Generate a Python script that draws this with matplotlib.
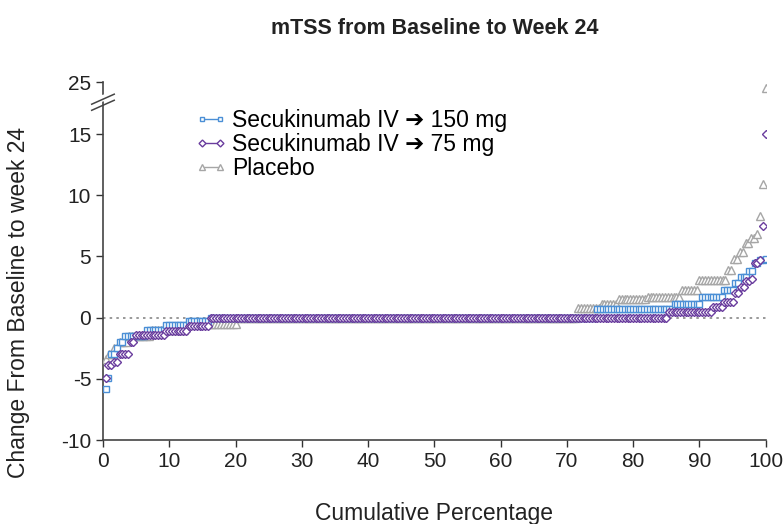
import numpy as np
import matplotlib
matplotlib.use("Agg")
from matplotlib import pyplot as plt
from matplotlib.lines import Line2D

plt.rcParams['font.family'] = ['Liberation Sans', 'DejaVu Sans']

# sorted change values (value, number of patients)
sec150_values = [-5.8, -4.9, -3.0, -2.5, -2.0, -1.5, -1.0, -0.6, -0.3, 0.0, 0.7,
                 1.1, 1.7, 2.3, 2.8, 3.3, 3.8, 4.5, 4.7, 4.8]
sec150_counts = [1, 1, 2, 1, 2, 8, 7, 8, 8, 140, 28, 10, 8, 4, 2, 3, 2, 2, 2, 1]

sec75_values = [-4.9, -3.9, -3.6, -3.0, -2.0, -1.4, -1.1, -0.7, 0.0, 0.5, 0.9,
                1.3, 2.0, 2.5, 3.0, 3.2, 4.5, 4.7, 7.5, 15.0]
sec75_counts = [1, 2, 2, 4, 2, 11, 8, 8, 166, 16, 4, 4, 2, 2, 2, 1, 2, 1, 1, 1]

placebo_values = [-3.4, -3.0, -2.5, -2.0, -1.5, -1.0, -0.5, 0.0, 0.8, 1.1, 1.5,
                  1.7, 2.3, 3.1, 3.9, 4.8, 5.4, 6.1, 6.5, 6.8, 8.3, 10.9, 23.8]
placebo_counts = [1, 2, 2, 3, 8, 12, 18, 118, 8, 6, 10, 12, 6, 10, 2, 2, 2, 2, 2,
                  1, 1, 1, 1]

labels = ["Secukinumab IV \u2794 150 mg", "Secukinumab IV \u2794 75 mg", "Placebo"]
colors = ["#4b8fd6", "#6a3d9e", "#a6a6a6"]
markers = ["s", "D", "^"]
sizes = [4.5, 4.5, 5.5]

yticks = [-10, -5, 0, 5, 10, 15, 25]
xticks = list(range(0, 101, 10))


def cumulative(values, counts):
    y = np.repeat(values, counts)
    x = np.arange(1, len(y) + 1) / len(y) * 100
    return x, y


# broken y axis: above 15 the scale is compressed
squeeze = 0.425


def fwd(y):
    y = np.asarray(y, dtype=float)
    return np.where(y <= 15, y, 15 + (y - 15) * squeeze)


def inv(y):
    y = np.asarray(y, dtype=float)
    return np.where(y <= 15, y, 15 + (y - 15) / squeeze)


fig = plt.figure(figsize=(7.83, 5.24), dpi=100)
ax = fig.add_axes([0.1315, 0.16, 0.8465, 0.6835])
ax.set_yscale('function', functions=(fwd, inv))

ax.axhline(0, color="#888888", lw=1.2, linestyle=(0, (1.5, 2.5)), zorder=1)

groups = [(placebo_values, placebo_counts, 2),
          (sec150_values, sec150_counts, 0),
          (sec75_values, sec75_counts, 1)]
for vals, cnts, k in groups:
    x, y = cumulative(vals, cnts)
    ax.plot(x, y, linestyle='none', marker=markers[k], markersize=sizes[k],
            markerfacecolor='white', markeredgecolor=colors[k],
            markeredgewidth=1.0, zorder=3)

ax.set_xlim(0, 100)
ax.set_ylim(-10, 25)
ax.set_xticks(xticks)
ax.set_yticks(yticks)
ax.set_yticklabels([str(t) for t in yticks])
ax.minorticks_off()
ax.tick_params(direction='out', length=5, width=1, labelsize=15,
               colors='#333333', labelcolor='#222222')

for side in ['top', 'right']:
    ax.spines[side].set_visible(False)
for side in ['left', 'bottom']:
    ax.spines[side].set_color('#444444')
    ax.spines[side].set_linewidth(1.2)

# axis break marks
ax.fill([-0.03, 0.03, 0.03, -0.03], [0.935, 0.96, 0.975, 0.95],
        transform=ax.transAxes, color='white', clip_on=False, zorder=5)
for y0 in [0.935, 0.952]:
    ax.plot([-0.017, 0.017], [y0 - 0.014, y0 + 0.014], transform=ax.transAxes,
            color='#444444', lw=1.1, clip_on=False, zorder=6)

ax.set_xlabel("Cumulative Percentage", fontsize=16.5, color='#222222')
ax.xaxis.set_label_coords(0.5, -0.172)
ax.set_ylabel("Change From Baseline to week 24", fontsize=16.5, color='#222222')
ax.yaxis.set_label_coords(-0.11, 0.385)
fig.suptitle("mTSS from Baseline to Week 24", fontsize=15.5, fontweight='bold',
             x=0.555, y=0.965, color='#222222')

handles = [Line2D([], [], color=colors[k], marker=markers[k],
                  markersize=sizes[k] - 1, markerfacecolor='white',
                  markeredgewidth=1.0, lw=1.0) for k in range(3)]
ax.legend(handles, labels, loc='upper left', bbox_to_anchor=(0.125, 0.95),
          frameon=False, fontsize=16.5, handlelength=1.4, handletextpad=0.2,
          labelspacing=0.05, borderaxespad=0, numpoints=2)

fig.savefig("out.png", dpi=100)
